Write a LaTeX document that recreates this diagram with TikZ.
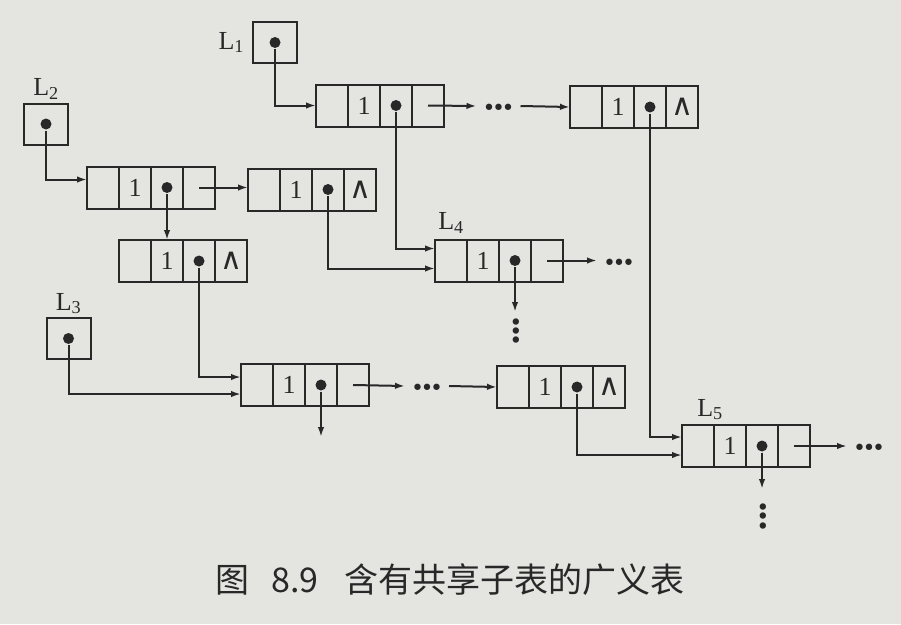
\documentclass[tikz,border=0pt]{standalone}
\usepackage{fontspec}
\setmainfont{Liberation Serif}
\newfontfamily\cjkfont{Noto Sans CJK SC}
\newfontfamily\symfont{DejaVu Sans}
\usetikzlibrary{arrows.meta, positioning}
\definecolor{paper}{RGB}{228,229,225}
\definecolor{ink}{RGB}{40,40,40}

\begin{document}
\begin{tikzpicture}[x=1pt, y=-1pt, line width=2pt, color=ink,
  cell/.style={draw, minimum width=32pt, minimum height=42pt, inner sep=0pt, outer sep=0pt, font=\fontsize{26}{26}\selectfont},
  nilcell/.style={cell, font=\symfont\fontsize{30}{30}\selectfont},
  headbox/.style={draw, minimum width=44pt, minimum height=41pt, inner sep=0pt, outer sep=0pt},
  dot/.style={circle, fill, inner sep=0pt, minimum size=11pt},
  lbl/.style={inner sep=0pt, font=\fontsize{26}{26}\selectfont},
  more/.style={inner sep=0pt, minimum width=42pt, text height=19pt, text depth=0pt, font=\symfont\fontsize{22}{22}\selectfont},
  vmore/.style={more, rotate=90},
  link/.style={-{Latex[length=10pt, width=6.5pt]}}]
\fill[paper] (0,0) rectangle (901,624);
\useasboundingbox (0,0) rectangle (901,624);

% head pointers
\node[headbox] (h1) at (275,42.5) {};
\node[headbox] (h2) at (46,124) {};
\node[headbox] (h3) at (68.5,338.5) {};
\node[dot] (h1p) at (h1) {};
\node[dot] (h2p) at (h2) {};
\node[dot] (h3p) at (h3) {};
\node[lbl, left=8pt of h1] (h1l) {L\textsubscript{1}};
\node[lbl, above=3pt of h2] (h2l) {L\textsubscript{2}};
\node[lbl, above=3pt of h3] (h3l) {L\textsubscript{3}};

% list L1
\node[cell] (a1-1) at (332,105.5) {};
\node[cell, right=0pt of a1-1] (a1-2) {1};
\node[cell, right=0pt of a1-2] (a1-3) {};
\node[cell, right=0pt of a1-3] (a1-4) {};
\node[cell] (a2-1) at (586,107) {};
\node[cell, right=0pt of a2-1] (a2-2) {1};
\node[cell, right=0pt of a2-2] (a2-3) {};
\node[nilcell, right=0pt of a2-3] (a2-4) {∧};
\node[dot] (a1p) at (a1-3) {};
\node[dot] (a2p) at (a2-3) {};
\node[more] (m1) at (498.5,106) {•\kern-3.5pt•\kern-3.5pt•};

% list L2
\node[cell] (b1-1) at (103,187.5) {};
\node[cell, right=0pt of b1-1] (b1-2) {1};
\node[cell, right=0pt of b1-2] (b1-3) {};
\node[cell, right=0pt of b1-3] (b1-4) {};
\node[cell] (b2-1) at (264,189.5) {};
\node[cell, right=0pt of b2-1] (b2-2) {1};
\node[cell, right=0pt of b2-2] (b2-3) {};
\node[nilcell, right=0pt of b2-3] (b2-4) {∧};
\node[cell] (b3-1) at (135,261) {};
\node[cell, right=0pt of b3-1] (b3-2) {1};
\node[cell, right=0pt of b3-2] (b3-3) {};
\node[nilcell, right=0pt of b3-3] (b3-4) {∧};
\node[dot] (b1p) at (b1-3) {};
\node[dot] (b2p) at (b2-3) {};
\node[dot] (b3p) at (b3-3) {};

% list L4
\node[cell] (d-1) at (451,260.5) {};
\node[cell, right=0pt of d-1] (d-2) {1};
\node[cell, right=0pt of d-2] (d-3) {};
\node[cell, right=0pt of d-3] (d-4) {};
\node[dot] (dp) at (d-3) {};
\node[lbl, above=5pt of d-1] (dl) {L\textsubscript{4}};
\node[more] (m2) at (619,260.5) {•\kern-3.5pt•\kern-3.5pt•};
\node[vmore, minimum width=36pt] (v1) at (515,331) {•\kern-3.5pt•\kern-3.5pt•};

% list L3
\node[cell] (c1-1) at (257,385) {};
\node[cell, right=0pt of c1-1] (c1-2) {1};
\node[cell, right=0pt of c1-2] (c1-3) {};
\node[cell, right=0pt of c1-3] (c1-4) {};
\node[cell] (c2-1) at (513,387) {};
\node[cell, right=0pt of c2-1] (c2-2) {1};
\node[cell, right=0pt of c2-2] (c2-3) {};
\node[nilcell, right=0pt of c2-3] (c2-4) {∧};
\node[dot] (c1p) at (c1-3) {};
\node[dot] (c2p) at (c2-3) {};
\coordinate (c1-end) at (321,437);
\node[more] (m3) at (427,386) {•\kern-3.5pt•\kern-3.5pt•};

% list L5
\node[cell] (e-1) at (698,446) {};
\node[cell, right=0pt of e-1] (e-2) {1};
\node[cell, right=0pt of e-2] (e-3) {};
\node[cell, right=0pt of e-3] (e-4) {};
\node[dot] (ep) at (e-3) {};
\node[lbl, above=4pt of e-1, xshift=12pt] (el) {L\textsubscript{5}};
\node[more] (m4) at (869,446) {•\kern-3.5pt•\kern-3.5pt•};
\node[vmore, minimum width=53pt] (v2) at (762,516.5) {•\kern-3.5pt•\kern-3.5pt•};

% links
\draw[link] (h1p) |- (a1-1.west);
\draw[link] (a1-4.center) -- (m1.west);
\draw[link] (m1.east) -- (a2-1.west);
\draw[link] (a1p) |- ([yshift=12pt]d-1.west);
\draw[link] (a2p) |- ([yshift=9pt]e-1.west);
\draw[link] (h2p) |- ([yshift=8pt]b1-1.west);
\draw[link] (b1-4.center) -- (b1-4.center -| b2-1.west);
\draw[link] (b1p) -- (b3-2.north);
\draw[link] (b2p) |- ([yshift=-8pt]d-1.west);
\draw[link] (b3p) |- ([yshift=8pt]c1-1.west);
\draw[link] (h3p) |- ([yshift=-9pt]c1-1.west);
\draw[link] (d-4.center) -- (m2.west);
\draw[link] (dp) -- (v1.east);
\draw[link] (c1p) -- (c1-end);
\draw[link] (c1-4.center) -- (m3.west);
\draw[link] (m3.east) -- (c2-1.west);
\draw[link] (c2p) |- ([yshift=-9pt]e-1.west);
\draw[link] (e-4.center) -- (m4.west);
\draw[link] (ep) -- (v2.east);

\node[font=\cjkfont\fontsize{34}{34}\selectfont] (cap) at (450,580) {图\hspace{22pt}8.9\hspace{26pt}含有共享子表的广义表};
\end{tikzpicture}
\end{document}
